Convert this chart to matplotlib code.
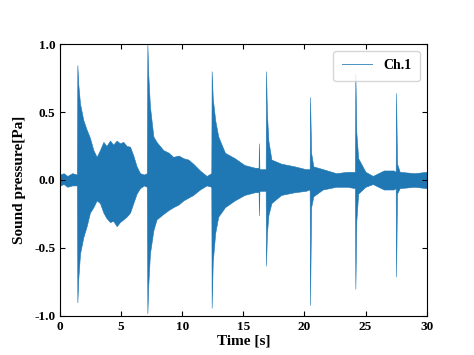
import matplotlib
matplotlib.use("Agg")
import matplotlib.pyplot as plt
from matplotlib.lines import Line2D

time_s = [0.0, 0.3, 0.6, 1.0, 1.38, 1.42, 1.5, 1.64, 1.91, 2.18, 2.45, 2.73, 3.0, 3.27, 3.55,
          3.8, 4.09, 4.35, 4.64, 4.9, 5.18, 5.45, 5.73, 6.0, 6.27, 6.55, 6.87, 7.1, 7.15,
          7.22, 7.36, 7.64, 7.9, 8.45, 8.9, 9.27, 9.7, 10.1, 10.5, 10.9, 11.45, 12.0, 12.38,
          12.41, 12.5, 12.7, 12.95, 13.5, 14.3, 15.1, 15.95, 16.25, 16.28, 16.32, 16.83,
          16.86, 16.93, 17.05, 17.3, 18.1, 19.2, 20.1, 20.43, 20.46, 20.55, 20.73, 21.5,
          22.6, 23.5, 24.13, 24.17, 24.25, 24.4, 25.0, 25.6, 26.5, 27.3, 27.47, 27.5,
          27.58, 27.8, 29.0, 30.0]
upper_pa = [0.04, 0.05, 0.03, 0.05, 0.04, 0.845, 0.70, 0.56, 0.44, 0.37, 0.31, 0.22, 0.17, 0.22, 0.28,
            0.25, 0.29, 0.26, 0.29, 0.27, 0.28, 0.25, 0.245, 0.18, 0.10, 0.05, 0.04, 0.05, 1.0,
            0.78, 0.54, 0.32, 0.28, 0.22, 0.20, 0.17, 0.18, 0.16, 0.15, 0.12, 0.07, 0.03, 0.05,
            0.80, 0.60, 0.44, 0.32, 0.20, 0.16, 0.11, 0.09, 0.09, 0.27, 0.08, 0.08,
            0.80, 0.50, 0.29, 0.15, 0.12, 0.10, 0.08, 0.08, 0.61, 0.20, 0.10, 0.08,
            0.05, 0.06, 0.06, 0.78, 0.35, 0.16, 0.06, 0.03, 0.07, 0.07, 0.06, 0.64,
            0.12, 0.06, 0.05, 0.06]
lower_pa = [-0.04, -0.03, -0.05, -0.04, -0.04, -0.90, -0.72, -0.54, -0.42, -0.34, -0.24, -0.20, -0.15, -0.17, -0.24,
            -0.28, -0.31, -0.30, -0.34, -0.31, -0.29, -0.27, -0.24, -0.17, -0.10, -0.06, -0.04, -0.05, -0.98,
            -0.78, -0.54, -0.37, -0.29, -0.25, -0.22, -0.20, -0.18, -0.15, -0.13, -0.11, -0.07, -0.04, -0.05,
            -0.94, -0.60, -0.39, -0.27, -0.20, -0.15, -0.11, -0.09, -0.09, -0.26, -0.08, -0.08,
            -0.63, -0.40, -0.26, -0.17, -0.11, -0.09, -0.08, -0.07, -0.92, -0.20, -0.12, -0.07,
            -0.05, -0.05, -0.06, -0.80, -0.30, -0.10, -0.05, -0.03, -0.07, -0.07, -0.06, -0.71,
            -0.10, -0.06, -0.05, -0.06]

x_ticks = [0, 5, 10, 15, 20, 25, 30]
y_ticks = [-1.0, -0.5, 0.0, 0.5, 1.0]
series_label = "Ch.1"
color = "#1f77b4"

plt.rcParams['font.family'] = ['Liberation Serif', 'DejaVu Serif']
plt.rcParams['font.weight'] = 'bold'

fig = plt.figure(figsize=(4.74, 3.55), dpi=100)
ax = fig.add_axes([0.1266, 0.110, 0.7734, 0.766])

ax.fill_between(time_s, lower_pa, upper_pa, color=color, linewidth=0.4, edgecolor=color)

ax.set_xlim(0, 30)
ax.set_ylim(-1.0, 1.0)
ax.set_xticks(x_ticks)
ax.set_yticks(y_ticks)
ax.set_xticklabels([str(v) for v in x_ticks], fontweight='bold', fontsize=9.5)
ax.set_yticklabels([f"{v:.1f}" for v in y_ticks], fontweight='bold', fontsize=9.5)
ax.tick_params(direction='in', top=True, right=True, length=3.5, width=0.8, pad=3.5)
ax.set_xlabel("Time [s]", fontweight='bold', fontsize=11, labelpad=1)
ax.set_ylabel("Sound pressure[Pa]", fontweight='bold', fontsize=11, labelpad=6)

handle = Line2D([], [], color=color, linewidth=0.7, alpha=0.8)
leg = ax.legend([handle], [series_label], loc='upper right', prop={'weight': 'bold', 'size': 10},
                handlelength=2.2, borderpad=0.6)

fig.savefig("out.png", dpi=100)
